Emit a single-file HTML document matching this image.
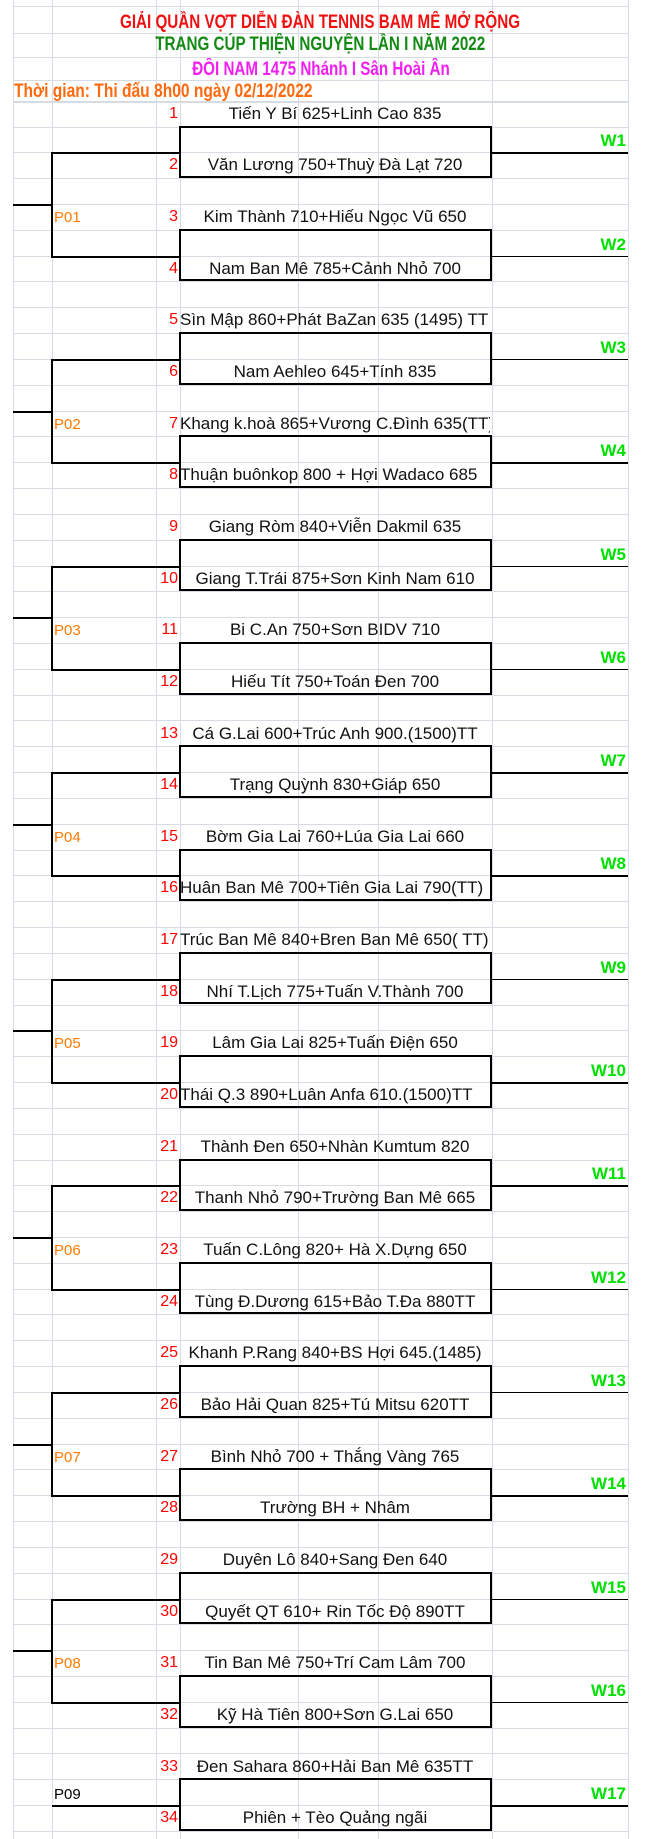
<!DOCTYPE html>
<html><head><meta charset="utf-8">
<style>
html,body{margin:0;padding:0;background:#fff;}
body{width:670px;height:1839px;position:relative;overflow:hidden;font-family:"Liberation Sans",sans-serif;}
.a{position:absolute;}
.gh{position:absolute;left:13px;width:615px;height:1px;background:#d6dbe4;}
.gv{position:absolute;top:0;height:1839px;width:1px;background:#d6dbe4;}
.t{position:absolute;left:13px;width:615px;text-align:center;font-size:19px;font-weight:bold;white-space:nowrap;line-height:24px;}
.t span{display:inline-block;transform:scaleX(.8);transform-origin:center;}
.nm{position:absolute;left:180px;width:310px;height:24px;line-height:24px;font-size:17px;color:#111;overflow:hidden;white-space:nowrap;display:flex;justify-content:center;}
.nm.l{justify-content:flex-start;}
.nm span{display:inline-block;}
.num{position:absolute;width:60px;left:118px;text-align:right;color:#f00;font-size:16px;line-height:24px;}
.w{position:absolute;left:540px;width:86px;text-align:right;color:#00e000;font-weight:bold;font-size:17px;line-height:22px;}
.p{position:absolute;left:54px;color:#ff7a00;font-size:15px;line-height:20px;}
.k{position:absolute;background:#000;}
.box{position:absolute;left:179px;width:309px;border:2px solid #000;}
</style></head><body>
<div id="g"></div>
<div class="t" style="top:11px;color:#f01010"><span>GIẢI QUẦN VỢT DIỄN ĐÀN TENNIS BAM MÊ MỞ RỘNG</span></div>
<div class="t" style="top:33px;color:#138a13"><span>TRANG CÚP THIỆN NGUYỆN LẦN I NĂM 2022</span></div>
<div class="t" style="top:58px;color:#f020f0"><span>ĐÔI NAM 1475 Nhánh I Sân Hoài Ân</span></div>
<div class="a" style="top:80px;left:14px;font-size:19px;font-weight:bold;line-height:24px;color:#ff6a10;white-space:nowrap;transform:scaleX(.82);transform-origin:left;"><span>Thời gian: Thi đấu 8h00 ngày 02/12/2022</span></div>
<div id="c"></div>
<script>
var names=["Tiến Y Bí 625+Linh Cao 835","Văn Lương 750+Thuỳ Đà Lạt 720","Kim Thành 710+Hiếu Ngọc Vũ 650","Nam Ban Mê 785+Cảnh Nhỏ 700","Sìn Mập 860+Phát BaZan 635 (1495) TT","Nam Aehleo 645+Tính 835","Khang k.hoà 865+Vương C.Đình 635(TT)","Thuận buônkop 800 + Hợi Wadaco 685","Giang Ròm 840+Viễn Dakmil 635","Giang T.Trái 875+Sơn Kinh Nam 610","Bi C.An 750+Sơn BIDV 710","Hiếu Tít 750+Toán Đen 700","Cá G.Lai 600+Trúc Anh 900.(1500)TT","Trạng Quỳnh 830+Giáp 650","Bờm Gia Lai 760+Lúa Gia Lai 660","Huân Ban Mê 700+Tiên Gia Lai 790(TT)","Trúc Ban Mê 840+Bren Ban Mê 650( TT)","Nhí T.Lịch 775+Tuấn V.Thành 700","Lâm Gia Lai 825+Tuấn Điện 650","Thái Q.3 890+Luân Anfa 610.(1500)TT","Thành Đen 650+Nhàn Kumtum 820","Thanh Nhỏ 790+Trường Ban Mê 665","Tuấn C.Lông 820+ Hà X.Dựng 650","Tùng Đ.Dương 615+Bảo T.Đa 880TT","Khanh P.Rang 840+BS Hợi 645.(1485)","Bảo Hải Quan 825+Tú Mitsu 620TT","Bình Nhỏ 700 + Thắng Vàng 765","Trường BH + Nhâm","Duyên Lô 840+Sang Đen 640","Quyết QT 610+ Rin Tốc Độ 890TT","Tin Ban Mê 750+Trí Cam Lâm 700","Kỹ Hà Tiên 800+Sơn G.Lai 650","Đen Sahara 860+Hải Ban Mê 635TT","Phiên + Tèo Quảng ngãi"];
var longs={5:1,7:1,8:1,16:1,17:1,20:1};
var h="",g="";
var P=103.3,R=P/4,B0=126.5;
[6,33,57,80,102].forEach(function(y){g+='<div class="gh" style="top:'+y+'px"></div>';});
for(var r=0;r<69;r++){var y=Math.round(B0-R+r*R);if(y<1839)g+='<div class="gh" style="top:'+y+'px"></div>';}
[13,52,156,180,298,378,492,628].forEach(function(x){g+='<div class="gv" style="left:'+x+'px"></div>';});
document.getElementById("g").innerHTML=g;
for(var m=0;m<17;m++){
 var bt=B0+m*P, wy=bt+R;
 var n1=2*m+1,n2=2*m+2;
 h+='<div class="box" style="top:'+(bt-1).toFixed(1)+'px;height:'+(2*R-3).toFixed(1)+'px"></div>';
 h+='<div class="k" style="left:490px;width:138px;height:1.5px;top:'+wy.toFixed(1)+'px"></div>';
 h+='<div class="w" style="top:'+(wy-22).toFixed(1)+'px">W'+(m+1)+'</div>';
 h+='<div class="num" style="top:'+(bt-R+1).toFixed(1)+'px">'+n1+'</div>';
 h+='<div class="num" style="top:'+(bt+R+1).toFixed(1)+'px">'+n2+'</div>';
 h+='<div class="nm'+(longs[n1]?' l':'')+'" style="top:'+(bt-R+1).toFixed(1)+'px"><span>'+names[n1-1]+'</span></div>';
 h+='<div class="nm'+(longs[n2]?' l':'')+'" style="top:'+(bt+R+1).toFixed(1)+'px"><span>'+names[n2-1]+'</span></div>';
}
for(var j=0;j<8;j++){
 var y1=B0+R+2*j*P,y2=y1+P,mid=(y1+y2)/2;
 h+='<div class="k" style="left:51px;width:2px;top:'+y1.toFixed(1)+'px;height:'+(P+2).toFixed(1)+'px"></div>';
 h+='<div class="k" style="left:51px;width:129px;height:2px;top:'+y1.toFixed(1)+'px"></div>';
 h+='<div class="k" style="left:51px;width:129px;height:2px;top:'+y2.toFixed(1)+'px"></div>';
 h+='<div class="k" style="left:13px;width:39px;height:2px;top:'+mid.toFixed(1)+'px"></div>';
 h+='<div class="p" style="top:'+(mid+4).toFixed(1)+'px">P0'+(j+1)+'</div>';
}
var y9=B0+R+16*P;
h+='<div class="k" style="left:52px;width:128px;height:2px;top:'+y9.toFixed(1)+'px"></div>';
h+='<div class="p" style="color:#000;top:'+(y9-20).toFixed(1)+'px">P09</div>';
document.getElementById("c").innerHTML=h;
</script>
</body></html>
